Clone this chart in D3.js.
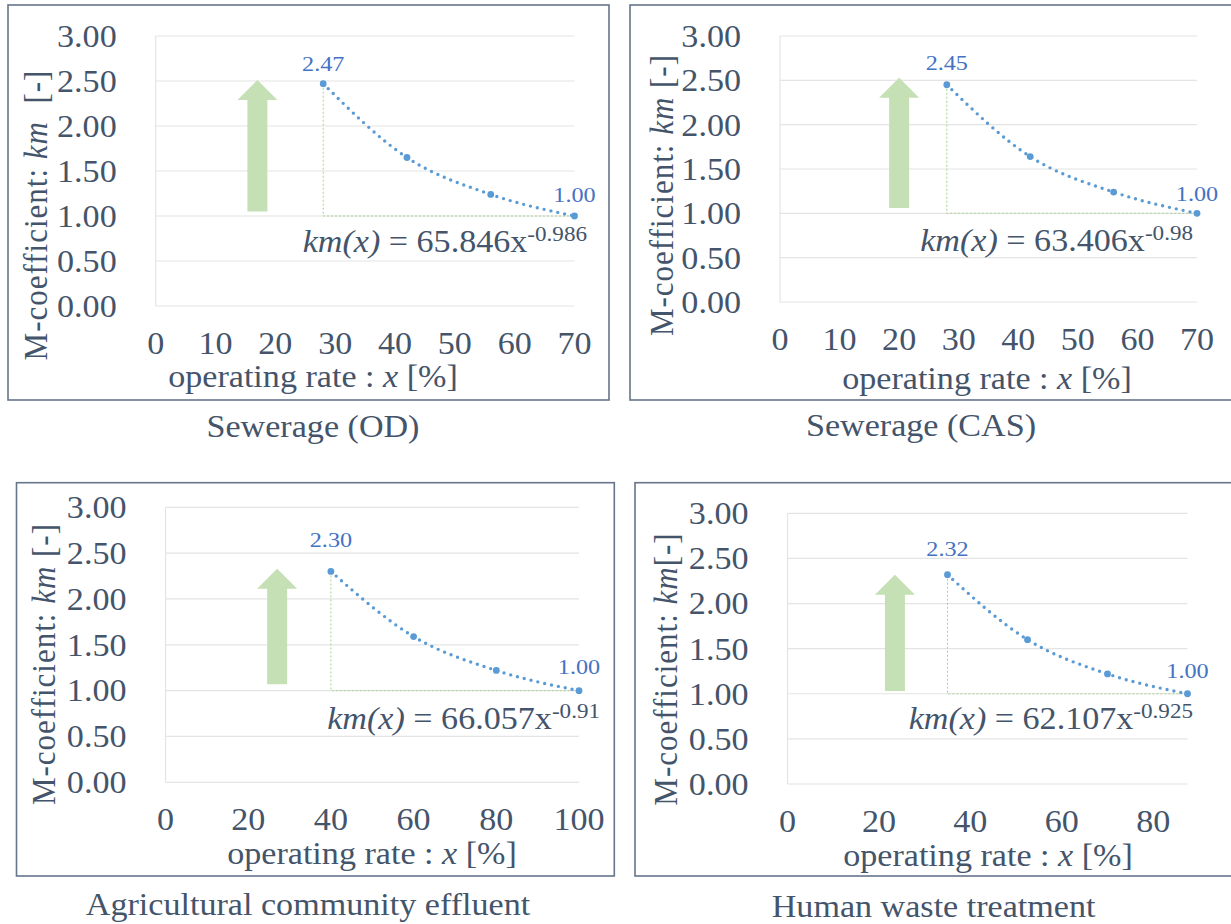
<!DOCTYPE html>
<html>
<head>
<meta charset="utf-8">
<script src="https://cdn.jsdelivr.net/npm/d3@7"></script>
<style>
  html, body { margin: 0; padding: 0; background: #ffffff; }
  svg { display: block; }
</style>
</head>
<body>
<svg id="chart" width="1231" height="924"></svg>
<script>
// ---- data ----
const panelTitles = ["Sewerage (OD)", "Sewerage (CAS)", "Agricultural community effluent", "Human waste treatment"];

const rateOD = [28, 42, 56, 70];
const kmOD = [2.47, 1.65, 1.24, 1.00];

const rateCAS = [28, 42, 56, 70];
const kmCAS = [2.45, 1.64, 1.24, 1.00];

const rateAgri = [40, 60, 80, 100];
const kmAgri = [2.30, 1.59, 1.22, 1.00];

const rateHuman = [35, 52.5, 70, 87.5];
const kmHuman = [2.32, 1.60, 1.22, 1.00];

// power-law fit shown on each panel: km(x) = a * x^b
const fitCoef = ["65.846", "63.406", "66.057", "62.107"];
const fitExp = ["-0.986", "-0.98", "-0.91", "-0.925"];

const xMax = [70, 70, 100, 87.5];
const xTickValues = [
  [0, 10, 20, 30, 40, 50, 60, 70],
  [0, 10, 20, 30, 40, 50, 60, 70],
  [0, 20, 40, 60, 80, 100],
  [0, 20, 40, 60, 80]
];
const yTickValues = [0, 0.5, 1.0, 1.5, 2.0, 2.5, 3.0];

// upward arrow (rate -> km range) marking the rise of the coefficient
const arrowRate = [17, 20, 27, 23.5];
const arrowFrom = [1.05, 1.06, 1.07, 1.03];
const arrowTo = [2.51, 2.53, 2.33, 2.32];

const series = [
  { x: rateOD, y: kmOD },
  { x: rateCAS, y: kmCAS },
  { x: rateAgri, y: kmAgri },
  { x: rateHuman, y: kmHuman }
];

// ---- layout ----
const layout = [
  { frame: [8, 5, 609, 400], plot: [155.7, 36, 574.5, 306], yTitle: [47, 215], yGap: "  ",
    xTitle: [313, 387], sub: [313, 437], eq: [587, 252], lblDy: [13, 14] },
  { frame: [630, 5, 1240, 400], plot: [780, 36, 1197, 302], yTitle: [673, 195], yGap: " ",
    xTitle: [987, 389], sub: [921, 436], eq: [1193, 251], lblDy: [15, 12] },
  { frame: [16.5, 482.7, 614.3, 876], plot: [165.5, 507.3, 579, 782.3], yTitle: [55, 664], yGap: " ",
    xTitle: [372, 864], sub: [308, 915], eq: [600, 729], lblDy: [24, 17] },
  { frame: [635, 482.7, 1240, 876], plot: [787.5, 513.3, 1187.5, 784], yTitle: [677, 669], yGap: "",
    xTitle: [988, 866], sub: [933.6, 917], eq: [1193, 729], lblDy: [19, 16] }
];

const FONT = "'Liberation Serif', 'Times New Roman', serif";
const TEXT = "#44546a";
const BLUE = "#5b9bd5";
const LABEL_BLUE = "#4472c4";
const GREEN = "#a9d18e";
const ARROW = "#c5e0b4";
const GRID = "#e4e4e4";
const SX = 1.1; // glyphs are drawn slightly wide

const svg = d3.select("#chart");

// text placed inside a horizontally widened group
function stretchedText(parent, x, y, size, anchor) {
  const g = parent.append("g").attr("transform", `translate(${x},${y}) scale(${SX},1)`);
  return g.append("text")
    .attr("font-family", FONT)
    .attr("font-size", size)
    .attr("text-anchor", anchor)
    .attr("fill", TEXT);
}

series.forEach((s, i) => {
  const L = layout[i];
  const g = svg.append("g");

  // outer frame
  g.append("rect")
    .attr("x", L.frame[0]).attr("y", L.frame[1])
    .attr("width", L.frame[2] - L.frame[0]).attr("height", L.frame[3] - L.frame[1])
    .attr("fill", "none").attr("stroke", "#66758a").attr("stroke-width", 1.6);

  const x = d3.scaleLinear().domain([0, xMax[i]]).range([L.plot[0], L.plot[2]]);
  const y = d3.scaleLinear().domain([0, 3]).range([L.plot[3], L.plot[1]]);

  // horizontal gridlines
  g.append("g").selectAll("line").data(yTickValues).join("line")
    .attr("x1", x(0)).attr("x2", x(xMax[i]))
    .attr("y1", d => y(d)).attr("y2", d => y(d))
    .attr("stroke", GRID).attr("stroke-width", 1.2);
  // value axis line
  g.append("line")
    .attr("x1", x(0)).attr("x2", x(0)).attr("y1", y(0)).attr("y2", y(3))
    .attr("stroke", GRID).attr("stroke-width", 1.2);

  // y tick labels
  yTickValues.forEach(v => {
    stretchedText(g, x(0) - 39, y(v), 31, "end")
      .attr("dy", "0.35em")
      .text(d3.format(".2f")(v));
  });

  // x tick labels
  xTickValues[i].forEach(v => {
    stretchedText(g, x(v), y(0) + 48, 31, "middle").text(v);
  });

  // axis titles
  const xt = stretchedText(g, L.xTitle[0], L.xTitle[1], 31, "middle");
  xt.append("tspan").text("operating rate : ");
  xt.append("tspan").attr("font-style", "italic").text("x");
  xt.append("tspan").text(" [%]");

  const yg = g.append("g")
    .attr("transform", `translate(${L.yTitle[0]},${L.yTitle[1]}) scale(${SX},1) rotate(-90)`);
  const yt = yg.append("text")
    .attr("font-family", FONT).attr("font-size", 31)
    .attr("text-anchor", "middle").attr("fill", TEXT)
    .attr("letter-spacing", 1)
    .style("white-space", "pre");
  yt.append("tspan").text("M-coefficient: ");
  yt.append("tspan").attr("font-style", "italic").text("km");
  yt.append("tspan").text(L.yGap + "[-]");

  // panel caption below the frame
  stretchedText(svg, L.sub[0], L.sub[1], 31, "middle").text(panelTitles[i]);

  // green arrow
  const ax = x(arrowRate[i]);
  const yBase = y(arrowFrom[i]);
  const yTip = y(arrowTo[i]);
  const headH = 20, headW = 20, shaftW = 10;
  g.append("path")
    .attr("d", d3.line()([
      [ax - shaftW, yBase], [ax - shaftW, yTip + headH], [ax - headW, yTip + headH],
      [ax, yTip], [ax + headW, yTip + headH], [ax + shaftW, yTip + headH], [ax + shaftW, yBase]
    ]) + "Z")
    .attr("fill", ARROW);

  const n = s.x.length;
  const first = 0, last = n - 1;

  // drop lines from the peak to the 1.00 level
  g.append("path")
    .attr("d", d3.line()([
      [x(s.x[first]), y(s.y[first])], [x(s.x[first]), y(s.y[last])], [x(s.x[last]), y(s.y[last])]
    ]))
    .attr("fill", "none").attr("stroke", GREEN).attr("stroke-width", 1)
    .attr("stroke-dasharray", "2 2");

  // dotted trend curve through the points
  const pts = s.x.map((v, k) => [v, s.y[k]]);
  g.append("path")
    .datum(pts)
    .attr("d", d3.line().x(d => x(d[0])).y(d => y(d[1])).curve(d3.curveMonotoneX))
    .attr("fill", "none").attr("stroke", BLUE).attr("stroke-width", 3.4)
    .attr("stroke-linecap", "round").attr("stroke-dasharray", "0 7");

  // markers
  g.append("g").selectAll("circle").data(pts).join("circle")
    .attr("cx", d => x(d[0])).attr("cy", d => y(d[1])).attr("r", 3.4)
    .attr("fill", BLUE);

  // value labels at both ends
  [first, last].forEach((k, j) => {
    stretchedText(g, x(s.x[k]), y(s.y[k]) - L.lblDy[j], 22, "middle")
      .attr("fill", LABEL_BLUE)
      .text(d3.format(".2f")(s.y[k]));
  });

  // fitted equation
  const eq = stretchedText(g, L.eq[0], L.eq[1], 31, "end");
  eq.append("tspan").attr("font-style", "italic").text("km(x)");
  eq.append("tspan").text(" = " + fitCoef[i] + "x");
  eq.append("tspan").attr("font-size", 21).attr("dy", -11).text(fitExp[i]);
});
</script>
</body>
</html>
